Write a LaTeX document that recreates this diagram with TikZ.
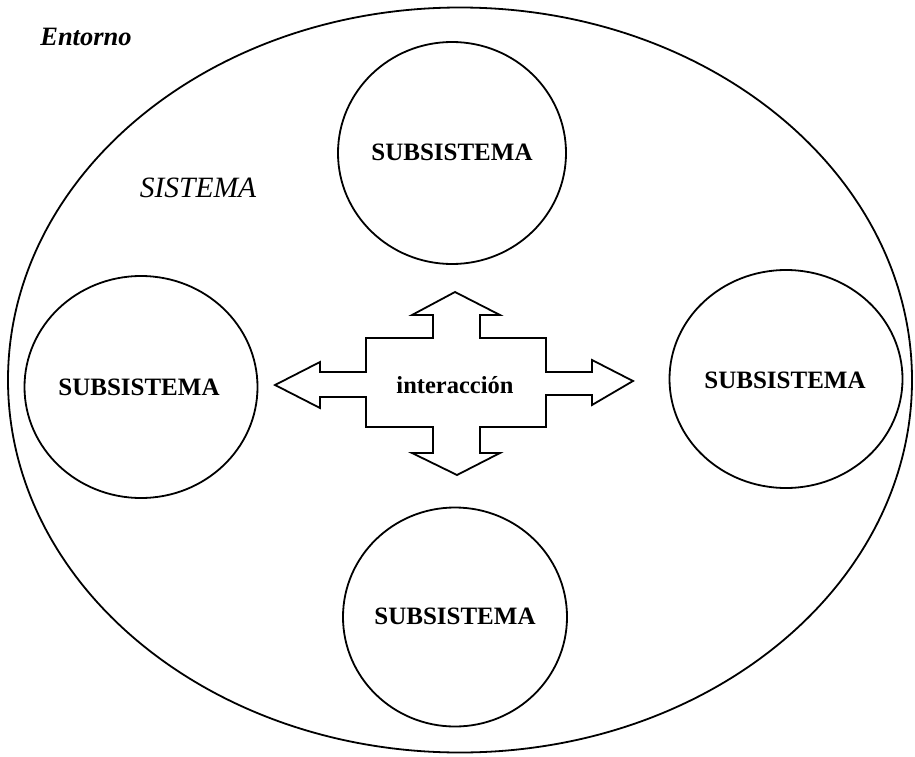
\documentclass[tikz,border=0pt]{standalone}
\usepackage{fontspec}
\setmainfont{Liberation Serif}
\usetikzlibrary{shapes.geometric}

\tikzset{
  outline/.style={draw=black, line width=1.8pt},
  subsys/.style={outline, ellipse, inner sep=0pt},
  sublabel/.style={font=\fontsize{25}{28}\selectfont\bfseries, inner sep=0pt},
}

\begin{document}
\begin{tikzpicture}[x=1pt, y=-1pt]
  \useasboundingbox (0,0) rectangle (915,757);

  % the system: one large ellipse
  \node[subsys, minimum width=904pt, minimum height=745pt] (sistema) at (460,380) {};

  % four subsystems
  \node[subsys, minimum width=228pt, minimum height=222pt] (subN) at (452,153) {};
  \node[subsys, minimum width=233pt, minimum height=222pt] (subW) at (141,387) {};
  \node[subsys, minimum width=233pt, minimum height=218pt] (subE) at (786,379) {};
  \node[subsys, minimum width=224pt, minimum height=219pt] (subS) at (455,617) {};

  \node[sublabel] (tN) at (452,152) {SUBSISTEMA};
  \node[sublabel] (tW) at (139,387) {SUBSISTEMA};
  \node[sublabel] (tE) at (785,380) {SUBSISTEMA};
  \node[sublabel] (tS) at (455,616) {SUBSISTEMA};

  % four-way interaction arrow
  \draw[outline, line join=miter]
    (455,292) -- (500,315) -- (480,315) -- (480,338) -- (546,338) -- (546,372)
    -- (592,372) -- (592,360) -- (633,381) -- (592,405) -- (592,395) -- (546,395)
    -- (546,427) -- (480,427) -- (480,453) -- (500,453) -- (457,475) -- (412,453)
    -- (433,453) -- (433,427) -- (366,427) -- (366,397) -- (320,397) -- (320,408)
    -- (275,385) -- (320,362) -- (320,372) -- (366,372) -- (366,338) -- (433,338)
    -- (433,315) -- (412,315) -- cycle;
  \node[font=\fontsize{24.5}{28}\selectfont\bfseries, inner sep=0pt] (inter) at (455,385) {interacción};

  % labels for environment and system
  \node[font=\fontsize{26.5}{30}\selectfont\bfseries\itshape, inner sep=0pt] (entorno) at (86,37) {Entorno};
  \node[font=\fontsize{29.5}{32}\selectfont\itshape, inner sep=0pt] (sistlabel) at (198,188) {SISTEMA};
\end{tikzpicture}
\end{document}
